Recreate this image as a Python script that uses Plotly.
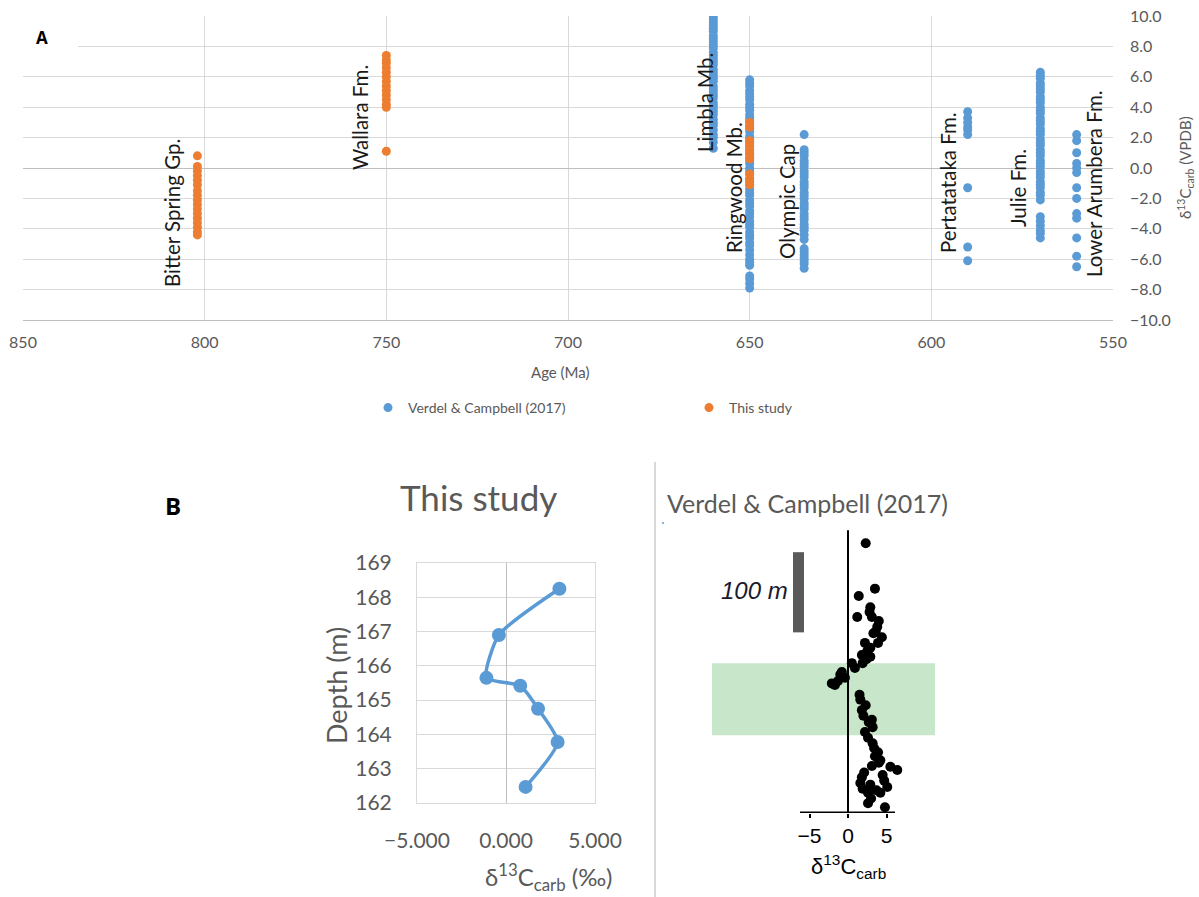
import plotly.graph_objects as go

W, H = 1199, 897
def px(v): return v / W
def py(v): return 1 - v / H

BLUE = "#5B9BD5"
ORANGE = "#ED7D31"
GRAY = "#595959"
GRID = "#d9d9d9"

# ---------------- Panel A data ----------------
unit_names = ["Bitter Spring Gp.", "Wallara Fm.", "Limbla Mb.", "Ringwood Mb.", "Olympic Cap",
              "Pertatataka Fm.", "Julie Fm.", "Lower Arumbera Fm."]

# Verdel & Campbell (2017) compilation
age_limbla, age_ringwood, age_olympic = 660, 650, 635
age_pertatataka, age_julie, age_arumbera = 590, 570, 560
limbla = [10.0, 9.8, 9.6, 9.4, 9.2, 9.0, 8.7, 8.5, 8.3, 8.1, 7.9, 7.6, 7.4, 7.2, 7.0, 6.8, 6.5, 6.3,
          6.1, 5.9, 5.7, 5.4, 5.2, 5.0, 4.8, 4.6, 4.3, 4.1, 3.9, 3.7, 3.5, 3.2, 3.0, 2.8, 2.5, 2.2,
          2.0, 1.7, 1.3]
ringwood = [5.8, 5.6, 5.4, 5.1, 4.9, 4.7, 4.5, 4.2, 4.0, 3.8, 3.5, 3.3, 3.1, 2.8, 2.6, 2.4, 2.1,
            1.9, 1.7, 1.4, 1.2, 1.0, 0.7, 0.5, 0.3, 0.0, -0.2, -0.4, -0.7, -0.9, -1.1, -1.4, -1.6,
            -1.8, -2.1, -2.3, -2.5, -2.8, -3.0, -3.2, -3.5, -3.7, -3.9, -4.2, -4.4, -4.6, -4.9,
            -5.1, -5.4, -5.7, -6.0, -6.2, -6.4, -7.1, -7.3, -7.6, -7.9]
olympic = [2.2, 1.2, 1.0, 0.8, 0.5, 0.3, 0.1, -0.2, -0.4, -0.6, -0.9, -1.1, -1.3, -1.6, -1.8, -2.0,
           -2.3, -2.5, -2.7, -3.0, -3.2, -3.4, -3.7, -3.9, -4.1, -4.4, -4.7, -5.3, -5.5, -5.7,
           -5.9, -6.1, -6.3, -6.6]
pertatataka = [3.7, 3.3, 3.0, 2.7, 2.5, 2.2, -1.3, -5.2, -6.1]
julie = [6.3, 6.1, 5.9, 5.6, 5.4, 5.2, 5.0, 4.7, 4.5, 4.3, 4.0, 3.8, 3.6, 3.3, 3.1, 2.9, 2.6, 2.4,
         2.2, 1.9, 1.7, 1.5, 1.2, 1.0, 0.8, 0.5, 0.3, 0.1, -0.2, -0.4, -0.6, -0.9, -1.1, -1.3,
         -1.6, -1.8, -2.1, -3.2, -3.5, -3.8, -4.1, -4.3, -4.6]
arumbera = [2.2, 1.8, 1.0, 0.3, 0.0, -0.3, -1.3, -2.0, -3.0, -3.3, -4.6, -5.8, -6.5]

# This study
age_bitter, age_wallara, age_ringwood_this = 802, 750, 650
bitter = [0.8, 0.1, -0.2, -0.5, -0.8, -1.1, -1.5, -1.8, -2.1, -2.4, -2.7, -3.0, -3.3, -3.6, -3.9,
          -4.2, -4.4]
wallara = [7.4, 7.1, 6.9, 6.6, 6.3, 6.0, 5.7, 5.4, 5.1, 4.8, 4.5, 4.2, 4.0, 1.1]
ringwood_this = [3.0, 2.7, 1.8, 1.5, 1.2, 0.9, 0.6, -0.4, -0.7, -1.1]

age_ticks = [850, 800, 750, 700, 650, 600, 550]

# ---------------- Panel B data ----------------
depth_this = [168.25, 166.9, 165.65, 165.42, 164.75, 163.78, 162.47]
d13c_this = [3.0, -0.4, -1.1, 0.8, 1.8, 2.9, 1.1]

vc_d13c = [2.3, 3.5, 1.4, 2.9, 1.2, 3.1, 3.8, 4.4, 2.2, 2.9, 1.8, 2.9, 1.9, 0.5, -0.8, -1.0, -1.7,
           1.6, 1.8, 3.1, 3.2, 2.2, 3.2, 3.9, 4.2, 3.1, 5.5, 6.4, 1.6, 2.9, 5.1, 2.6, 4.2, 2.6,
           4.8, 0.9, -0.4, -2.1, 2.3, 2.6, 1.8, 2.7, 3.5, 4.5, 3.0, 3.3, 2.5, 4.0, 3.6, 2.4,
           -1.3, 1.5, 2.0, 3.4, 4.0, 4.7, 3.7, 2.1, 1.9, 3.9, 2.8]
vc_height = [333, 277, 268, 254, 242, 242, 230, 217, 210, 204, 195, 193, 185, 185, 174, 171, 158,
             140, 127, 115, 106, 100, 86, 75, 65, 58, 57, 53, 37, 35, 32, 25, 25, 12,
             7, 179, 167, 160, 133, 93, 44, 112, 70, 47, 18, 222, 200, 237, 224, 190,
             163, 146, 120, 80, 62, 40, 28, 50, 30, 210, 248]

# ---------------- Build traces ----------------
blue_x, blue_y = [], []
for a, vals in [(age_limbla, limbla), (age_ringwood, ringwood), (age_olympic, olympic),
                (age_pertatataka, pertatataka), (age_julie, julie), (age_arumbera, arumbera)]:
    blue_x += [a] * len(vals)
    blue_y += vals
orange_x, orange_y = [], []
for a, vals in [(age_bitter, bitter), (age_wallara, wallara), (age_ringwood_this, ringwood_this)]:
    orange_x += [a] * len(vals)
    orange_y += vals

fig = go.Figure()
fig.add_trace(go.Scatter(x=blue_x, y=blue_y, mode="markers", name="Verdel & Campbell (2017)",
                         marker=dict(color=BLUE, size=9), xaxis="x", yaxis="y"))
fig.add_trace(go.Scatter(x=orange_x, y=orange_y, mode="markers", name="This study",
                         marker=dict(color=ORANGE, size=9), xaxis="x", yaxis="y"))
fig.add_trace(go.Scatter(x=d13c_this, y=depth_this, mode="lines+markers", showlegend=False,
                         line=dict(color=BLUE, width=3.5, shape="spline", smoothing=0.6),
                         marker=dict(color=BLUE, size=14), xaxis="x2", yaxis="y2"))
fig.add_trace(go.Scatter(x=vc_d13c, y=vc_height, mode="markers", showlegend=False,
                         marker=dict(color="black", size=10), cliponaxis=False,
                         xaxis="x3", yaxis="y3"))

FONT = "Lato"
layout = dict(
    width=W, height=H, margin=dict(l=0, r=0, t=0, b=0, autoexpand=False),
    paper_bgcolor="white", plot_bgcolor="white",
    font=dict(family=FONT, color=GRAY),
    xaxis=dict(domain=[px(23), px(1113)], range=[850, 550], tickvals=age_ticks,
               showgrid=True, gridcolor=GRID, gridwidth=1, zeroline=False,
               showline=True, linecolor="#bfbfbf", ticks="", ticklabelstandoff=8,
               tickfont=dict(size=16, color=GRAY, family=FONT), anchor="y", automargin=False),
    yaxis=dict(domain=[py(320), py(16)], range=[-10, 10], dtick=2, tickformat=".1f",
               side="right", showgrid=True, gridcolor=GRID, zeroline=True,
               zerolinecolor="#bfbfbf", zerolinewidth=1, ticks="", ticklabelstandoff=16,
               tickfont=dict(size=16, color=GRAY, family=FONT), anchor="x", automargin=False),
    xaxis2=dict(domain=[px(417), px(595)], range=[-5, 5], dtick=5, tickformat=".3f",
                showgrid=False, zeroline=True, zerolinecolor="#bfbfbf", zerolinewidth=1,
                showline=True, mirror=True, linecolor=GRID, ticks="", ticklabelstandoff=19,
                tickfont=dict(size=21, color=GRAY, family=FONT), anchor="y2", automargin=False),
    yaxis2=dict(domain=[py(803), py(563)], range=[162, 169], dtick=1,
                showgrid=True, gridcolor=GRID, zeroline=False, showline=True, mirror=True,
                linecolor=GRID, ticks="", ticklabelstandoff=20,
                tickfont=dict(size=21, color=GRAY, family=FONT), anchor="x2", automargin=False),
    xaxis3=dict(domain=[px(700), px(950)], range=[(700 - 848) / 7.7, (950 - 848) / 7.7],
                tickvals=[-5, 0, 5], showgrid=False, zeroline=False, showline=False,
                ticks="outside", ticklen=4, tickcolor="black", tickwidth=2,
                tickfont=dict(size=21, color="black", family="Liberation Sans"), anchor="y3",
                automargin=False),
    yaxis3=dict(domain=[py(813), py(520)], range=[0, (813 - 520) / 0.81], visible=False,
                anchor="x3"),
    legend=dict(orientation="h", x=px(368), xanchor="left", y=py(408), yanchor="middle",
                entrywidth=276, entrywidthmode="pixels", bgcolor="rgba(0,0,0,0)",
                font=dict(size=14, color=GRAY, family=FONT), itemclick=False),
)
fig.update_layout(**layout)

shapes = [
    # white box behind panel label A
    dict(type="rect", xref="paper", yref="paper", x0=0, x1=px(78), y0=py(57), y1=1,
         fillcolor="white", line=dict(width=0), layer="above"),
    # separator between B panels
    dict(type="line", xref="paper", yref="paper", x0=px(655), x1=px(655), y0=py(462), y1=0,
         line=dict(color=GRID, width=2)),
    # tiny blue speck next to the inset title
    dict(type="circle", xref="paper", yref="paper", x0=px(662), x1=px(664), y0=py(524), y1=py(522),
         fillcolor=BLUE, line=dict(width=0)),
    # green interval band
    dict(type="rect", xref="x3", yref="y3", x0=(712 - 848) / 7.7, x1=(935 - 848) / 7.7,
         y0=96, y1=185, fillcolor="rgb(200,230,201)", line=dict(width=0), layer="below"),
    # 100 m scale bar
    dict(type="rect", xref="x3", yref="y3", x0=(793 - 848) / 7.7, x1=(804 - 848) / 7.7,
         y0=223, y1=322, fillcolor="#5a5a5a", line=dict(width=0)),
    # axes of inset
    dict(type="line", xref="x3", yref="y3", x0=0, x1=0, y0=0, y1=349,
         line=dict(color="black", width=2)),
    dict(type="line", xref="x3", yref="y3", x0=(800 - 848) / 7.7, x1=(895 - 848) / 7.7,
         y0=0, y1=0, line=dict(color="black", width=3)),
]
fig.update_layout(shapes=shapes)

ann = []
def label(text, x, y, size, color="#222", angle=0, family=FONT, xanchor="center", yanchor="middle"):
    ann.append(dict(text=text, xref="paper", yref="paper", x=px(x), y=py(y), showarrow=False,
                    textangle=angle, font=dict(size=size, color=color, family=family),
                    xanchor=xanchor, yanchor=yanchor))

label("<b>A</b>", 42, 37, 17, color="black", family="Open Sans")
label_pos = [(172, 213), (360, 118), (705, 103), (734, 188), (787, 202), (948, 183), (1018, 188),
             (1094, 184)]
for name, (lx, ly) in zip(unit_names, label_pos):
    label(name, lx, ly, 20.5, color="#1a1a1a", angle=-90)
label("δ<sup>13</sup>C<sub>carb</sub> (VPDB)", 1185, 168, 15, color=GRAY, angle=-90)
label("Age (Ma)", 560, 372, 15, color=GRAY)

label("<b>B</b>", 173, 505, 24, color="black", family="Open Sans")
label("This study", 478, 497, 35, color=GRAY)
label("Depth (m)", 336, 685, 27, color=GRAY, angle=-90)
label("δ<sup>13</sup>C<sub>carb</sub> (‰)", 549, 877, 24, color=GRAY)

label("Verdel & Campbell (2017)", 665, 503, 25, color=GRAY, xanchor="left")
label("<i>100 m</i>", 790, 590, 24, color="#1a1a2e", family="Liberation Sans", xanchor="right")
label("δ<sup>13</sup>C<sub>carb</sub>", 848, 866, 22, color="black", family="Liberation Sans")

fig.update_layout(annotations=ann)
fig.write_html("out.html")
